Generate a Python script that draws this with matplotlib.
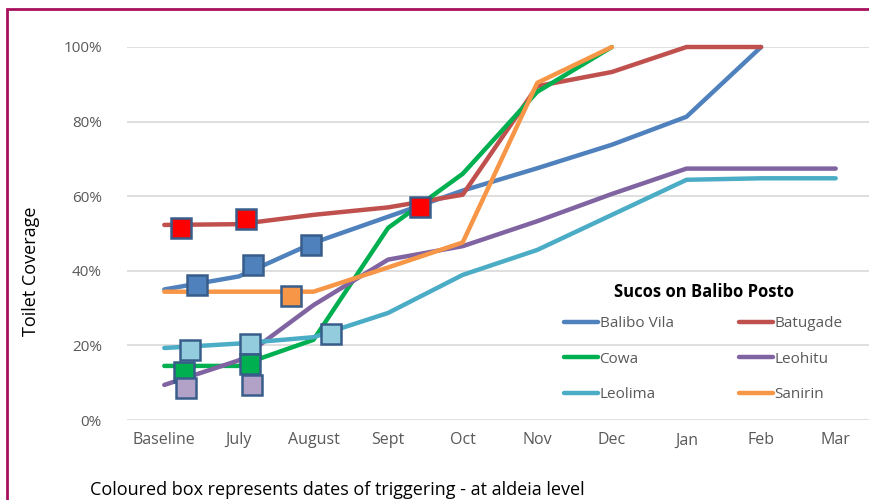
import matplotlib
matplotlib.use('Agg')
import matplotlib.pyplot as plt
import matplotlib.patches as patches
from matplotlib.ticker import FuncFormatter

plt.rcParams['font.family'] = ['Open Sans', 'DejaVu Sans']

# Toilet coverage per suco (%), monthly
months = ['Baseline', 'July', 'August', 'Sept', 'Oct', 'Nov', 'Dec', 'Jan', 'Feb', 'Mar']
balibo_vila = [35, 38.5, 47.5, 54.5, 61.5, 67.5, 73.8, 81.3, 100]
batugade = [52.3, 52.5, 55, 57, 60.4, 89.5, 93.3, 100, 100]
cowa = [14.5, 14.5, 21.5, 51.5, 66, 88, 100]
leohitu = [9.4, 16, 30.8, 43, 46.6, 53.3, 60.6, 67.4, 67.4, 67.4]
leolima = [19.3, 20.5, 22.2, 28.7, 38.9, 45.6, 55, 64.4, 64.8, 64.8]
sanirin = [34.4, 34.4, 34.4, 40.9, 47.6, 90.4, 100]

# Triggering dates (fractional month index) and coverage at that point
trig_batugade_x = [0.23, 1.1, 3.43]
trig_batugade_y = [51.5, 53.9, 57.1]
trig_balibo_x = [0.44, 1.19, 1.96]
trig_balibo_y = [36.2, 41.6, 46.9]
trig_sanirin_x = [1.7]
trig_sanirin_y = [33.2]
trig_leolima_x = [0.34, 1.15, 2.23]
trig_leolima_y = [18.8, 20.4, 23.0]
trig_cowa_x = [0.27, 1.15]
trig_cowa_y = [12.9, 15.0]
trig_leohitu_x = [0.29, 1.17]
trig_leohitu_y = [8.6, 9.4]

series = [('Balibo Vila', balibo_vila, '#4F81BD'),
          ('Batugade', batugade, '#C0504D'),
          ('Cowa', cowa, '#00B050'),
          ('Leohitu', leohitu, '#8064A2'),
          ('Leolima', leolima, '#4BACC6'),
          ('Sanirin', sanirin, '#F79646')]

fig = plt.figure(figsize=(8.7, 5.0), dpi=100)
ax = fig.add_axes([127/870, 80/500, 746/870, 373/500])

for name, vals, col in series:
    ax.plot(range(len(vals)), vals, color=col, lw=3.2, solid_capstyle='round',
            label=name, clip_on=False, zorder=3)

edge = '#385D8A'
boxes = [(trig_batugade_x, trig_batugade_y, '#FF0000'),
         (trig_balibo_x, trig_balibo_y, '#4F81BD'),
         (trig_sanirin_x, trig_sanirin_y, '#F79646'),
         (trig_leolima_x, trig_leolima_y, '#93CDDD'),
         (trig_cowa_x, trig_cowa_y, '#00B050'),
         (trig_leohitu_x, trig_leohitu_y, '#B3A2C7')]
for bx, by, col in boxes:
    ax.plot(bx, by, ls='none', marker='s', ms=15, mfc=col, mec=edge, mew=1.8,
            zorder=4, clip_on=False)

ax.set_xlim(-0.5, 9.5)
ax.set_ylim(0, 100)
ax.set_yticks(range(0, 101, 20))
ax.yaxis.set_major_formatter(FuncFormatter(lambda v, p: '%d%%' % v))
ax.set_xticks(range(len(months)))
ax.set_xticklabels(months)
ax.tick_params(length=0, labelsize=11, colors='#595959')
ax.tick_params(axis='y', pad=18)
ax.tick_params(axis='x', pad=9, labelsize=11.5)
ax.grid(axis='y', color='#D9D9D9', lw=1.2)
ax.set_axisbelow(True)
for s in ax.spines.values():
    s.set_visible(False)

ax.set_ylabel('Toilet Coverage', fontsize=13, color='black')
ax.yaxis.set_label_coords(-(127 - 40) / 746, 0.40)

# legend filled row by row: reorder for matplotlib's column-wise fill
h, l = ax.get_legend_handles_labels()
order = [0, 2, 4, 1, 3, 5]
leg = ax.legend([h[i] for i in order], [l[i] for i in order], ncol=2,
                loc='upper left', bbox_to_anchor=(0.568, 0.405),
                frameon=False, title='Sucos on Balibo Posto', fontsize=11,
                handlelength=2.2, handletextpad=0.1, columnspacing=4.3,
                labelspacing=1.35, labelcolor='#595959')
leg.get_title().set_fontweight('bold')
leg.get_title().set_fontsize(12)
leg._legend_box.sep = 11

fig.text(90/870, 1 - 490/500, 'Coloured box represents dates of triggering - at aldeia level',
         fontsize=13, va='center', ha='left')

border = patches.Rectangle((7/870, -0.05), 1.1, 0.982 + 0.05, transform=fig.transFigure,
                           fill=False, ec='#A8105E', lw=2)
fig.patches.append(border)

fig.savefig('out.png', dpi=100)
